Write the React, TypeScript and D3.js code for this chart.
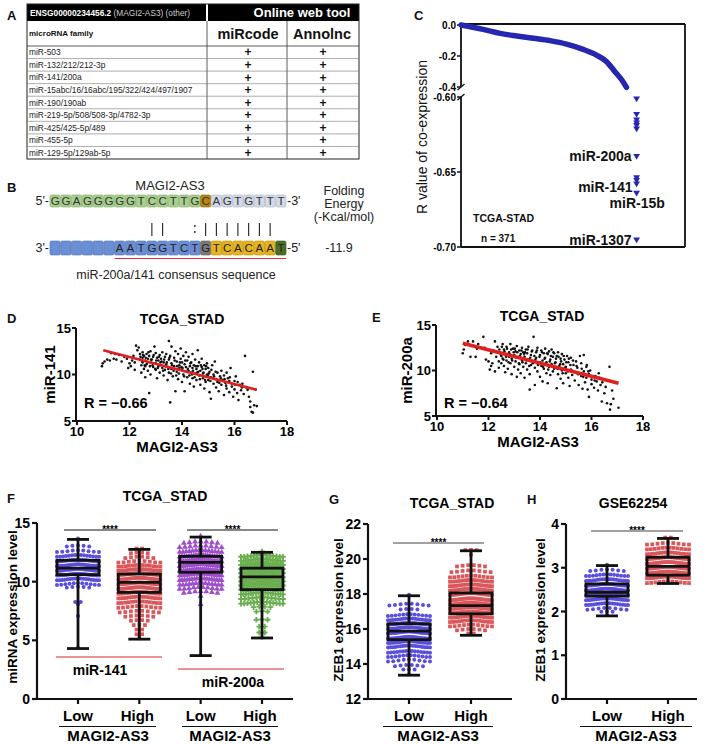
import React from 'react';
import * as d3 from 'd3';

const FONT = '"Liberation Sans", Arial, Helvetica, sans-serif';

// ---------------- Panel A data ----------------
const tableGeneId = 'ENSG00000234456.2';
const tableGeneNote = ' (MAGI2-AS3) (other)';
const tableToolHeader = 'Online web tool';
const tableFamilyHeader = 'microRNA family';
const tableTools = ['miRcode', 'Annolnc'];
const mirnaFamilies = [
  'miR-503',
  'miR-132/212/212-3p',
  'miR-141/200a',
  'miR-15abc/16/16abc/195/322/424/497/1907',
  'miR-190/190ab',
  'miR-219-5p/508/508-3p/4782-3p',
  'miR-425/425-5p/489',
  'miR-455-5p',
  'miR-129-5p/129ab-5p',
];
const miRcodeHit = [true, true, true, true, true, true, true, true, true];
const annolncHit = [true, true, true, true, true, true, true, true, true];

// ---------------- Panel B data ----------------
const bGeneName = 'MAGI2-AS3';
const bTopSeq = 'GGAGGGGGTCCTTGCAGTGTTT';
const bTopKinds = 'ggggggggggggggcllllllld';
const bBottomSeq = '      AATGGTCTGTCACAAT';
const bBottomKinds = 'bbbbbbbbbbbbbbxyyyyyye';
const bPairs = '         ||  :||||||| ';
const bFoldingEnergy = '-11.9';
const bConsensus = 'miR-200a/141 consensus sequence';

// ---------------- Panel C data ----------------
const cCurveRank = [0, 48, 85, 121, 157, 193, 229, 265, 294, 316, 334, 349, 359];
const cCurveR = [0, -0.028, -0.054, -0.071, -0.086, -0.101, -0.123, -0.157, -0.194, -0.237, -0.301, -0.355, -0.402];
const cOutlierRank = 381;
const cOutlierR = [-0.6009, -0.6113, -0.6149, -0.6169, -0.6187, -0.6209, -0.6393, -0.6535, -0.6553, -0.6576, -0.6638, -0.6949];
const cTopTicks = [0, -0.2, -0.4];
const cTopTickLabels = ['0.0', '-0.2', '-0.4'];
const cBottomTicks = [-0.6, -0.65, -0.7];
const cBottomTickLabels = ['-0.60', '-0.65', '-0.70'];
const cLabelNames = ['miR-200a', 'miR-141', 'miR-15b', 'miR-1307'];
const cLabelR = [-0.6393, -0.6553, -0.6638, -0.6949];

// ---------------- Panel D / E data ----------------
const scatterXTicks = [10, 12, 14, 16, 18];
const scatterYTicks = [5, 10, 15];
const dPoints: [number, number][] = [
  [10.95, 10.9], [10.98, 11.2], [11.05, 11.4], [11.15, 11.6], [11.25, 11.5], [11.3, 12.3], [11.4, 11.7], [11.45, 12.2], [11.5, 11.6], [11.6, 12.1],
  [11.7, 11.4], [11.8, 11.9], [11.9, 11.7], [11.95, 10.7], [12.0, 11.2], [12.05, 10.9], [12.1, 11.5], [12.15, 12.0], [12.2, 11.3], [12.2, 10.5], [12.25, 13.1], [12.3, 12.6],
  [12.35, 12.9], [12.4, 12.2], [12.4, 11.6], [12.45, 11.0], [12.45, 10.2], [12.5, 12.4], [12.5, 11.8], [12.5, 11.3], [12.55, 10.6], [12.55, 12.0], [12.6, 11.5], [12.6, 10.9], [12.6, 9.7],
  [12.65, 12.2], [12.65, 11.1], [12.7, 11.7], [12.7, 10.4], [12.75, 12.0], [12.75, 8.0], [12.8, 11.3], [12.8, 10.0], [12.8, 12.5], [12.85, 11.6], [12.9, 10.8], [12.9, 11.9],
  [12.95, 13.0], [13.0, 12.3], [13.0, 11.2], [13.0, 10.5], [13.05, 11.8], [13.05, 9.6], [13.1, 11.5], [13.1, 10.9], [13.15, 12.1], [13.15, 10.2], [13.2, 11.0], [13.2, 11.7],
  [13.25, 12.4], [13.25, 10.7], [13.3, 11.3], [13.3, 9.9], [13.35, 11.9], [13.35, 10.5], [13.4, 12.2], [13.4, 11.1], [13.45, 10.8], [13.45, 9.4], [13.5, 13.6], [13.5, 11.6],
  [13.5, 10.2], [13.55, 12.0], [13.55, 7.0], [13.6, 11.2], [13.6, 10.6], [13.6, 13.0], [13.65, 9.8], [13.7, 11.8], [13.7, 10.9], [13.75, 8.2], [13.75, 12.5],
  [13.8, 11.4], [13.8, 10.3], [13.85, 12.2], [13.85, 9.5], [13.9, 11.0], [13.9, 10.7], [13.95, 11.7], [13.95, 12.8], [14.0, 10.5], [14.0, 11.3], [14.0, 9.2], [14.05, 12.0],
  [14.05, 10.0], [14.1, 11.1], [14.1, 8.2], [14.15, 10.8], [14.15, 12.4], [14.2, 11.5], [14.2, 9.7], [14.25, 10.4], [14.25, 11.9], [14.3, 10.9], [14.3, 9.0], [14.35, 11.3],
  [14.35, 10.2], [14.4, 12.2], [14.4, 9.6], [14.4, 10.7], [14.45, 11.0], [14.45, 8.7], [14.5, 10.1], [14.5, 11.6], [14.55, 9.4], [14.55, 10.6], [14.6, 12.6],
  [14.6, 10.9], [14.65, 9.9], [14.65, 11.3], [14.7, 10.4], [14.7, 8.9], [14.75, 10.8], [14.75, 11.7], [14.8, 9.6], [14.8, 10.1], [14.85, 11.0], [14.85, 8.5], [14.9, 10.6],
  [14.9, 9.2], [14.95, 11.2], [14.95, 10.0], [15.0, 10.7], [15.0, 9.4], [15.05, 8.1], [15.05, 10.3], [15.1, 7.4], [15.1, 9.7], [15.15, 11.0], [15.2, 10.0], [15.2, 9.0],
  [15.25, 11.4], [15.3, 9.5], [15.3, 8.6], [15.35, 10.2], [15.35, 9.2], [15.4, 8.2],
  [15.45, 9.8], [15.5, 10.4], [15.5, 8.9], [15.55, 9.4], [15.6, 9.9], [15.6, 7.8], [15.65, 9.1], [15.7, 10.2], [15.7, 8.5], [15.75, 9.6], [15.8, 8.1], [15.8, 9.3],
  [15.85, 10.7], [15.9, 8.7], [15.9, 9.0], [15.95, 7.6], [16.0, 9.3], [16.0, 8.4], [16.05, 9.8], [16.1, 8.0],
  [16.15, 7.25], [16.2, 8.9], [16.25, 8.3], [16.3, 9.0], [16.35, 7.9], [16.4, 12.0], [16.45, 8.6], [16.5, 8.35], [16.55, 7.6], [16.6, 7.1], [16.6, 6.5], [16.65, 6.0],
  [16.7, 10.3], [16.75, 6.7], [16.8, 8.4], [16.85, 6.6], [16.7, 5.9],
  [12.42, 11.9], [12.48, 11.4], [12.52, 12.1], [12.58, 11.0], [12.62, 11.8], [12.68, 11.3], [12.72, 12.4], [12.78, 10.9],
  [12.82, 11.6], [12.88, 11.0], [12.92, 12.1], [12.98, 10.6], [13.02, 11.5], [13.08, 10.7], [13.12, 11.9], [13.18, 11.3],
  [13.22, 11.4], [13.28, 10.4], [13.32, 11.6], [13.38, 10.9], [13.42, 11.3], [13.48, 10.6], [13.52, 11.8], [13.58, 10.1],
  [13.62, 11.0], [13.68, 10.4], [13.72, 11.5], [13.78, 9.9], [13.82, 10.9], [13.88, 10.1], [13.92, 11.3], [13.98, 10.8],
  [14.02, 10.7], [14.08, 9.8], [14.12, 11.5], [14.18, 10.3], [14.22, 10.6], [14.28, 9.9], [14.32, 11.2], [14.38, 10.0],
  [14.42, 10.4], [14.48, 9.7], [14.52, 10.9], [14.58, 10.2], [14.62, 10.3], [14.68, 9.5], [14.72, 11.0], [14.78, 10.6],
  [14.82, 10.2], [14.88, 9.4], [14.92, 10.9], [14.98, 9.9], [15.02, 10.1], [15.08, 9.3], [15.12, 10.5], [15.18, 9.6],
  [15.22, 9.8], [15.28, 10.3], [15.42, 9.1], [15.48, 9.6], [15.62, 9.5], [15.68, 8.8], [15.82, 9.7], [16.02, 8.9], [16.12, 9.2], [16.28, 8.6],
];
const dFitX = [11.0, 16.85];
const dFitY = [12.6, 8.35];
const ePoints: [number, number][] = [
  [11.0, 11.9], [11.04, 12.3], [11.1, 12.8], [11.2, 13.2], [11.3, 11.5], [11.35, 12.7], [11.4, 13.2], [11.5, 11.5], [11.55, 12.4], [11.6, 12.9],
  [11.8, 13.7], [11.85, 12.5], [11.9, 11.2], [12.0, 11.0], [12.05, 10.1], [12.1, 10.5], [12.1, 11.9], [12.15, 10.8], [12.2, 12.2], [12.25, 13.2], [12.25, 9.9], [12.3, 11.5],
  [12.35, 12.6], [12.4, 11.0], [12.4, 10.3], [12.45, 12.0], [12.5, 11.6], [12.5, 10.8], [12.55, 12.9], [12.55, 11.3], [12.6, 10.5], [12.6, 12.3], [12.65, 11.8], [12.65, 9.8],
  [12.7, 11.1], [12.7, 12.6], [12.75, 10.2], [12.8, 11.5], [12.8, 12.0], [12.85, 10.8], [12.85, 12.9], [12.9, 11.3], [12.9, 9.6],
  [12.95, 12.4], [13.0, 11.7], [13.0, 10.4], [13.05, 12.1], [13.05, 11.0], [13.1, 9.3], [13.1, 12.7], [13.15, 11.4], [13.15, 10.1], [13.2, 12.2], [13.2, 10.7], [13.25, 11.8],
  [13.25, 9.7], [13.3, 12.5], [13.3, 11.1], [13.35, 10.4], [13.35, 12.0], [13.4, 11.5], [13.4, 9.2], [13.45, 12.3], [13.45, 10.8], [13.5, 11.9], [13.5, 10.1], [13.55, 12.6],
  [13.55, 11.2], [13.6, 9.6], [13.6, 7.9], [13.65, 11.7], [13.65, 10.6], [13.7, 12.2], [13.75, 13.7], [13.75, 11.0], [13.8, 8.4], [13.8, 10.3],
  [13.85, 12.0], [13.85, 11.4], [13.9, 9.9], [13.9, 12.5], [13.95, 10.8], [14.0, 11.7], [14.0, 9.3], [14.05, 12.2], [14.05, 10.5], [14.1, 11.1], [14.1, 8.8], [14.15, 11.9],
  [14.15, 10.2], [14.2, 12.4], [14.2, 11.4], [14.25, 9.7], [14.25, 10.9], [14.3, 11.8], [14.3, 8.6], [14.35, 10.4], [14.35, 12.1], [14.4, 11.2], [14.4, 9.5], [14.45, 10.7],
  [14.45, 12.3], [14.5, 11.5], [14.5, 9.9], [14.55, 10.2], [14.55, 11.9],
  [14.6, 10.9], [14.65, 8.05], [14.65, 11.6], [14.7, 9.6], [14.7, 12.0], [14.75, 10.5], [14.8, 11.3], [14.8, 9.1], [14.85, 10.0], [14.85, 11.8], [14.9, 10.7], [14.9, 8.6],
  [14.95, 11.2], [15.0, 9.7], [15.0, 10.4], [15.05, 11.6], [15.1, 9.2], [15.1, 10.9], [15.15, 8.3], [15.2, 10.1], [15.2, 11.4], [15.25, 9.5],
  [15.3, 10.6], [15.35, 8.9], [15.4, 11.0], [15.4, 9.8], [15.45, 10.3], [15.5, 8.4], [15.55, 11.6], [15.6, 9.4], [15.6, 10.8], [15.65, 8.0], [15.7, 9.9], [15.7, 11.7],
  [15.75, 8.7], [15.8, 10.4], [15.8, 9.2], [15.85, 7.9], [15.9, 7.1], [15.9, 9.6], [15.95, 10.0], [16.0, 8.5], [16.0, 9.0],
  [16.1, 8.1], [16.15, 9.4], [16.2, 8.8], [16.25, 7.8], [16.3, 9.2], [16.35, 8.4], [16.4, 6.6], [16.45, 9.0], [16.5, 7.5], [16.55, 8.2], [16.6, 6.4], [16.65, 8.9],
  [16.7, 10.4], [16.72, 5.7], [16.75, 6.3], [16.8, 7.8], [16.85, 6.9], [17.05, 5.9],
  [12.42, 12.3], [12.48, 11.7], [12.52, 12.6], [12.58, 11.2], [12.62, 12.1], [12.68, 11.5], [12.72, 12.4], [12.78, 10.9],
  [12.82, 11.8], [12.88, 12.3], [12.92, 11.1], [12.98, 12.0], [13.02, 12.4], [13.08, 11.4], [13.12, 12.0], [13.18, 10.8],
  [13.22, 11.6], [13.28, 12.2], [13.32, 10.9], [13.38, 11.8], [13.42, 12.0], [13.48, 11.1], [13.52, 12.3], [13.58, 10.5],
  [13.62, 11.4], [13.68, 12.1], [13.72, 10.8], [13.78, 11.6], [13.82, 11.2], [13.88, 12.2], [13.92, 10.6], [13.98, 11.5],
  [14.02, 10.9], [14.08, 12.0], [14.12, 10.4], [14.18, 11.3], [14.22, 10.7], [14.28, 11.9], [14.32, 10.1], [14.38, 11.0],
  [14.42, 11.6], [14.48, 10.5], [14.52, 12.0], [14.58, 10.8], [14.62, 11.3], [14.68, 10.2], [14.72, 11.5], [14.78, 10.7],
  [14.82, 11.0], [14.88, 9.7], [14.92, 11.6], [14.98, 10.3], [15.02, 10.9], [15.08, 9.9], [15.12, 11.3], [15.18, 10.6],
  [15.22, 10.0], [15.28, 11.1], [15.42, 10.5], [15.48, 9.6], [15.62, 10.2], [15.68, 9.3], [15.82, 10.6], [15.88, 9.9],
  [16.02, 9.4], [16.12, 8.9], [16.28, 9.7], [16.42, 8.7],
];
const eFitX = [11.0, 17.05];
const eFitY = [13.0, 8.6];

// ---------------- Panel F / G / H data ----------------
// Box stats: [min, q1, median, q3, max]
const fGroups = ['Low141', 'High141', 'Low200a', 'High200a'];
const fGroupLabels = ['Low', 'High', 'Low', 'High'];
const fStats: number[][] = [
  [4.3, 10.6, 11.15, 11.82, 13.6],
  [5.1, 9.09, 9.94, 10.65, 12.75],
  [3.7, 10.8, 11.65, 12.16, 13.8],
  [5.2, 9.32, 10.4, 11.15, 12.5],
];
// Dot rows: [value, count of samples at that level]
const fRows: [number, number][][] = [
  [[13.6, 1], [13.0, 5], [12.6, 9], [12.2, 15], [11.8, 21], [11.4, 24], [11.0, 24], [10.6, 22], [10.2, 17], [9.8, 11], [9.5, 5], [8.2, 2], [8.0, 1], [7.0, 1], [4.3, 1]],
  [[12.75, 2], [12.4, 4], [12.05, 6], [11.7, 9], [11.35, 13], [11.0, 17], [10.65, 20], [10.25, 22], [9.85, 22], [9.45, 22], [9.05, 20], [8.65, 17], [8.25, 13], [7.85, 10], [7.45, 8], [7.05, 6], [6.65, 4], [6.25, 3], [5.85, 2], [5.45, 2], [5.1, 1]],
  [[13.8, 1], [13.35, 7], [13.0, 9], [12.6, 14], [12.2, 19], [11.8, 23], [11.4, 24], [11.0, 23], [10.6, 21], [10.2, 18], [9.8, 14], [9.45, 10], [9.1, 7], [8.7, 1], [8.0, 1], [3.7, 1]],
  [[12.5, 1], [12.2, 14], [11.85, 18], [11.5, 21], [11.15, 23], [10.8, 24], [10.45, 24], [10.1, 23], [9.75, 22], [9.4, 21], [9.0, 18], [8.6, 12], [8.2, 14], [7.8, 4], [7.4, 3], [6.7, 3], [6.1, 2], [5.6, 2], [5.2, 1]],
];
const fYTicks = [0, 5, 10, 15];
const fMirNames = ['miR-141', 'miR-200a'];

const ghGroups = ['Low', 'High'];
const gStats: number[][] = [
  [13.36, 15.39, 15.88, 16.3, 17.9],
  [15.64, 16.87, 17.34, 18.06, 20.47],
];
const gRows: [number, number][][] = [
  [[17.9, 1], [17.4, 8], [17.1, 4], [16.8, 12], [16.55, 18], [16.3, 22], [16.05, 24], [15.8, 24], [15.5, 24], [15.25, 22], [15.0, 18], [14.7, 15], [14.45, 12], [14.2, 9], [13.9, 6], [13.65, 3], [13.36, 1]],
  [[20.47, 3], [20.2, 1], [19.6, 6], [19.3, 8], [19.0, 11], [18.75, 14], [18.5, 17], [18.25, 20], [18.0, 22], [17.7, 24], [17.45, 24], [17.2, 24], [16.95, 22], [16.7, 17], [16.45, 14], [16.2, 10], [15.95, 6], [15.7, 2]],
];
const gYTicks = [12, 14, 16, 18, 20, 22];
const hStats: number[][] = [
  [1.9, 2.35, 2.44, 2.63, 3.05],
  [2.64, 2.83, 3.03, 3.24, 3.67],
];
const hRows: [number, number][][] = [
  [[3.05, 1], [2.94, 7], [2.83, 13], [2.72, 19], [2.61, 23], [2.5, 24], [2.39, 24], [2.28, 22], [2.17, 17], [2.06, 8], [1.98, 3], [1.9, 1]],
  [[3.67, 2], [3.55, 9], [3.44, 12], [3.33, 16], [3.22, 19], [3.11, 22], [3.0, 23], [2.89, 23], [2.78, 20], [2.67, 11]],
];
const hYTicks = [0, 1, 2, 3, 4];

// ---------------- helpers ----------------
const BLUE = '#5a4fdc';
const RED = '#d9585c';
const PURPLE = '#9d4fcc';
const GREEN = '#6aae4f';

function rowPoints(rows: [number, number][], cx: number, y: (v: number) => number, maxW: number) {
  const pts: { x: number; y: number }[] = [];
  rows.forEach(([v, n]) => {
    const sp = n > 1 ? Math.min(5.6, maxW / (n - 1)) : 0;
    for (let i = 0; i < n; i++) {
      const off = (i - (n - 1) / 2) * sp;
      pts.push({ x: cx + off, y: y(v) - 0.9 * Math.cos((off / (maxW / 2)) * Math.PI) });
    }
  });
  return pts;
}

const symbolPaths: Record<string, string> = {
  circle: d3.symbol().type(d3.symbolCircle).size(12.5)() as string,
  square: d3.symbol().type(d3.symbolSquare).size(14)() as string,
  triangle: d3.symbol().type(d3.symbolTriangle).size(15)() as string,
  cross: d3.symbol().type(d3.symbolCross).size(17)() as string,
};

function PanelLetter({ x, y, t }: { x: number; y: number; t: string }) {
  return (
    <text x={x} y={y} fontSize={13} fontWeight="bold" fill="#111">
      {t}
    </text>
  );
}

// ---------------- Panel A ----------------
function PanelA() {
  const left = 27, right = 359, top = 4, headerBottom = 21, subBottom = 46, bottom = 159;
  const colSplit = 207, colTools = 287;
  const rowBand = d3.scaleBand<string>().domain(mirnaFamilies).range([subBottom, bottom]);
  const toolX = [248, 322];
  return (
    <g>
      <PanelLetter x={7} y={20} t="A" />
      <rect x={left} y={top} width={colSplit - left - 1} height={headerBottom - top} fill="#000" />
      <rect x={colSplit + 1} y={top} width={right - colSplit - 1} height={headerBottom - top} fill="#000" />
      <text x={30} y={15.5} fontSize={8.3} fontWeight="bold" fill="#fff">
        {tableGeneId}
        <tspan fontWeight="normal" fill="#cfcfcf">{tableGeneNote}</tspan>
      </text>
      <text x={302} y={17} fontSize={13} fontWeight="bold" fill="#fff" textAnchor="middle">
        {tableToolHeader}
      </text>
      <rect x={left} y={top} width={right - left} height={bottom - top} fill="none" stroke="#222" strokeWidth={1} />
      <line x1={colSplit} x2={colSplit} y1={headerBottom} y2={bottom} stroke="#333" strokeWidth={0.8} />
      <line x1={colTools} x2={colTools} y1={headerBottom} y2={bottom} stroke="#333" strokeWidth={0.8} />
      <line x1={left} x2={right} y1={subBottom} y2={subBottom} stroke="#333" strokeWidth={0.8} />
      <text x={29} y={36} fontSize={8} fontWeight="bold" fill="#111">
        {tableFamilyHeader}
      </text>
      {tableTools.map((t, i) => (
        <text key={t} x={toolX[i]} y={39} fontSize={14.5} fontWeight="bold" fill="#111" textAnchor="middle">
          {t}
        </text>
      ))}
      {mirnaFamilies.map((f, i) => {
        const y0 = rowBand(f) as number;
        const bw = rowBand.bandwidth();
        return (
          <g key={f}>
            {i > 0 && <line x1={left} x2={right} y1={y0} y2={y0} stroke="#777" strokeWidth={0.6} />}
            <text x={29} y={y0 + bw / 2 + 3} fontSize={8.4} fill="#222">
              {f}
            </text>
            {miRcodeHit[i] && (
              <text x={toolX[0]} y={y0 + bw / 2 + 4.2} fontSize={12} fontWeight="bold" textAnchor="middle" fill="#111">
                +
              </text>
            )}
            {annolncHit[i] && (
              <text x={toolX[1] + 1} y={y0 + bw / 2 + 4.2} fontSize={12} fontWeight="bold" textAnchor="middle" fill="#111">
                +
              </text>
            )}
          </g>
        );
      })}
    </g>
  );
}

// ---------------- Panel B ----------------
const kindFill: Record<string, string> = {
  g: '#a9d08e', c: '#b8860b', l: '#d3d9e6', d: '#2f4f9e',
  b: '#6b8fd4', x: '#7a7a7a', y: '#e6b41e', e: '#4a6e2a',
};
const kindStroke: Record<string, string> = {
  g: '#7fa867', c: '#8d6708', l: '#a9b1c4', d: '#22397a',
  b: '#4d6fb3', x: '#5b5b5b', y: '#b88d0f', e: '#34501c',
};

function PanelB() {
  const xb = d3.scaleBand<number>().domain(d3.range(bTopSeq.length)).range([50, 286]).paddingInner(0.05);
  const topY = 195, topH = 12, botY = 241, botH = 14;
  const fs = 11.5;
  return (
    <g>
      <PanelLetter x={7} y={192} t="B" />
      <text x={170} y={189.5} fontSize={13} textAnchor="middle" fill="#222">{bGeneName}</text>
      <text x={49} y={205} fontSize={12.5} textAnchor="end" fill="#222">5'-</text>
      <text x={287} y={205} fontSize={12.5} fill="#222">-3'</text>
      <text x={49} y={252} fontSize={12.5} textAnchor="end" fill="#222">3'-</text>
      <text x={287} y={252} fontSize={12.5} fill="#222">-5'</text>
      {bTopSeq.split('').map((ch, i) => (
        <g key={'t' + i}>
          <rect x={xb(i)} y={topY} width={xb.bandwidth()} height={topH} rx={1.5}
            fill={kindFill[bTopKinds[i]]} stroke={kindStroke[bTopKinds[i]]} strokeWidth={0.6} />
          <text x={(xb(i) as number) + xb.bandwidth() / 2} y={topY + topH / 2 + 4} fontSize={fs} textAnchor="middle"
            fill={bTopKinds[i] === 'd' ? '#e8ecf6' : '#333'}>{ch}</text>
        </g>
      ))}
      {bBottomSeq.split('').map((ch, i) => (
        <g key={'b' + i}>
          <rect x={xb(i)} y={botY} width={xb.bandwidth()} height={botH} rx={1.5}
            fill={kindFill[bBottomKinds[i]]} stroke={kindStroke[bBottomKinds[i]]} strokeWidth={0.6} />
          <text x={(xb(i) as number) + xb.bandwidth() / 2} y={botY + botH / 2 + 4} fontSize={fs} textAnchor="middle" fill="#222">{ch.trim()}</text>
        </g>
      ))}
      {bPairs.split('').map((ch, i) => {
        const cx = (xb(i) as number) + xb.bandwidth() / 2;
        if (ch === '|') return <line key={'p' + i} x1={cx} x2={cx} y1={223} y2={236} stroke="#222" strokeWidth={1.1} />;
        if (ch === ':') return (
          <g key={'p' + i}>
            <circle cx={cx} cy={226} r={0.9} fill="#222" />
            <circle cx={cx} cy={232} r={0.9} fill="#222" />
          </g>
        );
        return null;
      })}
      <line x1={(xb(6) as number)} x2={(xb(21) as number) + xb.bandwidth()} y1={258.5} y2={258.5} stroke="#e03030" strokeWidth={1} />
      <text x={176} y={279} fontSize={12.5} textAnchor="middle" fill="#222">{bConsensus}</text>
      <text x={344} y={195} fontSize={12.5} textAnchor="middle" fill="#222">Folding</text>
      <text x={344} y={208} fontSize={12.5} textAnchor="middle" fill="#222">Energy</text>
      <text x={344} y={221} fontSize={12.5} textAnchor="middle" fill="#222">(-Kcal/mol)</text>
      <text x={339} y={252} fontSize={12.5} textAnchor="middle" fill="#222">{bFoldingEnergy}</text>
    </g>
  );
}

// ---------------- Panel C ----------------
function PanelC() {
  const x = d3.scaleLinear().domain([0, 486]).range([461, 685]);
  const yTop = d3.scaleLinear().domain([0, -0.4]).range([25, 87]);
  const yBot = d3.scaleLinear().domain([-0.6, -0.7]).range([97, 247]);
  const curve = d3.line<number>().x((d, i) => x(cCurveRank[i])).y((d) => yTop(d)).curve(d3.curveMonotoneX)(cCurveR) as string;
  const col = '#2626b0';
  const tri = d3.symbol().type(d3.symbolTriangle).size(20)() as string;
  const labelSpec = [
    { dx: -5, dy: 5, anchor: 'end' },
    { dx: -4, dy: 12, anchor: 'end' },
    { dx: -27, dy: 15, anchor: 'start' },
    { dx: -5, dy: 5.5, anchor: 'end' },
  ];
  return (
    <g>
      <PanelLetter x={414} y={20} t="C" />
      <line x1={461} x2={685} y1={24} y2={24} stroke="#111" strokeWidth={1.8} />
      <line x1={685} x2={685} y1={24} y2={247} stroke="#111" strokeWidth={1.8} />
      <line x1={461} x2={685} y1={247} y2={247} stroke="#111" strokeWidth={1.8} />
      <line x1={461} x2={461} y1={24} y2={87} stroke="#111" strokeWidth={1.8} />
      <line x1={461} x2={461} y1={97} y2={247} stroke="#111" strokeWidth={1.8} />
      <line x1={457.5} x2={464.5} y1={90} y2={84} stroke="#111" strokeWidth={1.3} />
      <line x1={457.5} x2={464.5} y1={100} y2={94} stroke="#111" strokeWidth={1.3} />
      {cTopTicks.map((t, i) => (
        <g key={'ct' + i}>
          <line x1={457} x2={461} y1={yTop(t)} y2={yTop(t)} stroke="#111" strokeWidth={1.5} />
          <text x={456} y={yTop(t) + 3.5} fontSize={10} fontWeight="bold" textAnchor="end">{cTopTickLabels[i]}</text>
        </g>
      ))}
      {cBottomTicks.map((t, i) => (
        <g key={'cb' + i}>
          <line x1={457} x2={461} y1={yBot(t)} y2={yBot(t)} stroke="#111" strokeWidth={1.5} />
          <text x={456} y={yBot(t) + 3.5} fontSize={10} fontWeight="bold" textAnchor="end">{cBottomTickLabels[i]}</text>
        </g>
      ))}
      <path d={curve} fill="none" stroke={col} strokeWidth={5.5} strokeLinecap="round" />
      {cOutlierR.map((r, i) => (
        <path key={'o' + i} d={tri} transform={`translate(${x(cOutlierRank)},${yBot(r)}) rotate(180)`} fill={col} />
      ))}
      {cLabelNames.map((n, i) => (
        <text key={n} x={x(cOutlierRank) + labelSpec[i].dx} y={yBot(cLabelR[i]) + labelSpec[i].dy}
          fontSize={14} fontWeight="bold" textAnchor={labelSpec[i].anchor as any} fill="#111">{n}</text>
      ))}
      <text x={473} y={222} fontSize={10.5} fontWeight="bold" fill="#111">TCGA-STAD</text>
      <text x={481} y={242} fontSize={10} fontWeight="bold" fill="#111">n = 371</text>
      <text transform="translate(427,137) rotate(-90)" fontSize={14} textAnchor="middle" fill="#111">R value of co-expression</text>
    </g>
  );
}

// ---------------- Scatter (D/E) ----------------
function Scatter(props: {
  letter: string; lx: number; ly: number;
  x0: number; x1: number; yTopPx: number; yBotPx: number;
  points: [number, number][]; fitX: number[]; fitY: number[]; fitW: number;
  yTitle: string; rText: string; titleX: number; titleY: number; xTitleX: number; xTitleY: number; yTitleX: number;
}) {
  const x = d3.scaleLinear().domain([10, 18]).range([props.x0, props.x1]);
  const y = d3.scaleLinear().domain([5, 15]).range([props.yBotPx, props.yTopPx]);
  const ax = props.x0 - 1;
  return (
    <g>
      <PanelLetter x={props.lx} y={props.ly} t={props.letter} />
      <text x={props.titleX} y={props.titleY} fontSize={14} fontWeight="bold" textAnchor="middle">TCGA_STAD</text>
      {props.points.map((p, i) => (
        <circle key={i} cx={x(p[0])} cy={y(p[1])} r={1.3} fill="#111" />
      ))}
      <line x1={x(props.fitX[0])} x2={x(props.fitX[1])} y1={y(props.fitY[0])} y2={y(props.fitY[1])} stroke="#e01f1f" strokeWidth={props.fitW} />
      <line x1={ax} x2={ax} y1={y(15)} y2={y(5)} stroke="#111" strokeWidth={2} />
      <line x1={ax} x2={x(18)} y1={y(5)} y2={y(5)} stroke="#111" strokeWidth={2} />
      {scatterYTicks.map((t) => (
        <g key={'y' + t}>
          <line x1={ax - 4} x2={ax} y1={y(t)} y2={y(t)} stroke="#111" strokeWidth={2} />
          <text x={ax - 5} y={y(t) + 4.5} fontSize={13} fontWeight="bold" textAnchor="end">{t}</text>
        </g>
      ))}
      {scatterXTicks.map((t) => (
        <g key={'x' + t}>
          <line x1={x(t)} x2={x(t)} y1={y(5)} y2={y(5) + 4} stroke="#111" strokeWidth={2} />
          <text x={x(t)} y={y(5) + 15} fontSize={13} fontWeight="bold" textAnchor="middle">{t}</text>
        </g>
      ))}
      <text x={props.xTitleX} y={props.xTitleY} fontSize={15} fontWeight="bold" textAnchor="middle">MAGI2-AS3</text>
      <text transform={`translate(${props.yTitleX},${(y(5) + y(15)) / 2}) rotate(-90)`} fontSize={15} fontWeight="bold" textAnchor="middle">{props.yTitle}</text>
      <text x={props.x0 + 7} y={408} fontSize={14.5} fontWeight="bold">{props.rText}</text>
    </g>
  );
}

// ---------------- Box + dots ----------------
function BoxGroup({ cx, stats, rows, y, color, shape }: {
  cx: number; stats: number[]; rows: [number, number][]; y: (v: number) => number; color: string; shape: string;
}) {
  const pts = rowPoints(rows, cx, y, 42);
  const hw = 21, cw = 11;
  const sw = 2.8;
  return (
    <g>
      {pts.map((p, i) => (
        <path key={i} d={symbolPaths[shape]} transform={`translate(${p.x},${p.y})`} fill={color} />
      ))}
      <line x1={cx} x2={cx} y1={y(stats[0])} y2={y(stats[1])} stroke="#111" strokeWidth={sw} />
      <line x1={cx} x2={cx} y1={y(stats[3])} y2={y(stats[4])} stroke="#111" strokeWidth={sw} />
      <line x1={cx - cw} x2={cx + cw} y1={y(stats[0])} y2={y(stats[0])} stroke="#111" strokeWidth={sw} />
      <line x1={cx - cw} x2={cx + cw} y1={y(stats[4])} y2={y(stats[4])} stroke="#111" strokeWidth={sw} />
      <rect x={cx - hw} y={y(stats[3])} width={hw * 2} height={y(stats[1]) - y(stats[3])} fill="none" stroke="#111" strokeWidth={sw} />
      <line x1={cx - hw} x2={cx + hw} y1={y(stats[2])} y2={y(stats[2])} stroke="#111" strokeWidth={sw} />
    </g>
  );
}

function Axes({ x0, x1, y, ticks, xCenters }: { x0: number; x1: number; y: d3.ScaleLinear<number, number>; ticks: number[]; xCenters: number[] }) {
  const [d0, d1] = y.domain();
  return (
    <g>
      <line x1={x0} x2={x0} y1={y(d1)} y2={y(d0)} stroke="#111" strokeWidth={2.2} />
      <line x1={x0} x2={x1} y1={y(d0)} y2={y(d0)} stroke="#111" strokeWidth={2.2} />
      {ticks.map((t) => (
        <g key={t}>
          <line x1={x0 - 5} x2={x0} y1={y(t)} y2={y(t)} stroke="#111" strokeWidth={2.2} />
          <text x={x0 - 7} y={y(t) + 5} fontSize={14} fontWeight="bold" textAnchor="end">{t}</text>
        </g>
      ))}
      {xCenters.map((c, i) => (
        <line key={'xc' + i} x1={c} x2={c} y1={y(d0)} y2={y(d0) + 5} stroke="#111" strokeWidth={2.2} />
      ))}
    </g>
  );
}

function GroupLabels({ centers, labels, lineX0, lineX1, midX }: { centers: number[]; labels: string[]; lineX0: number; lineX1: number; midX: number }) {
  return (
    <g>
      {centers.map((c, i) => (
        <text key={i} x={c} y={721} fontSize={15} fontWeight="bold" textAnchor="middle">{labels[i]}</text>
      ))}
      <line x1={lineX0} x2={lineX1} y1={726.5} y2={726.5} stroke="#111" strokeWidth={1} />
      <text x={midX} y={741} fontSize={15} fontWeight="bold" textAnchor="middle">MAGI2-AS3</text>
    </g>
  );
}

function Sig({ x0, x1, y, color }: { x0: number; x1: number; y: number; color: string }) {
  return (
    <g>
      <line x1={x0} x2={x1} y1={y} y2={y} stroke={color} strokeWidth={1} />
      <text x={(x0 + x1) / 2} y={y + 2.5} fontSize={10} fontWeight="bold" textAnchor="middle">****</text>
    </g>
  );
}

function PanelF() {
  const y = d3.scaleLinear().domain([0, 15]).range([699, 523]);
  const x = d3.scalePoint<string>().domain(fGroups).range([78, 262]);
  const colors = [BLUE, RED, PURPLE, GREEN];
  const shapes = ['circle', 'square', 'triangle', 'cross'];
  const centers = fGroups.map((g) => x(g) as number);
  return (
    <g>
      <PanelLetter x={7} y={503} t="F" />
      <text x={165} y={501} fontSize={14} fontWeight="bold" textAnchor="middle">TCGA_STAD</text>
      {fGroups.map((g, i) => (
        <BoxGroup key={g} cx={centers[i]} stats={fStats[i]} rows={fRows[i]} y={y} color={colors[i]} shape={shapes[i]} />
      ))}
      <Axes x0={37} x1={293} y={y} ticks={fYTicks} xCenters={centers} />
      <Sig x0={64} x1={156} y={530} color="#111" />
      <Sig x0={187} x1={278} y={530} color="#111" />
      <line x1={56} x2={162} y1={657} y2={657} stroke="#d62728" strokeWidth={1} />
      <text x={100} y={675} fontSize={14} fontWeight="bold" textAnchor="middle">{fMirNames[0]}</text>
      <line x1={178} x2={284} y1={669} y2={669} stroke="#d62728" strokeWidth={1} />
      <text x={233} y={687} fontSize={14} fontWeight="bold" textAnchor="middle">{fMirNames[1]}</text>
      <GroupLabels centers={[centers[0], centers[1] - 2]} labels={fGroupLabels.slice(0, 2)} lineX0={59} lineX1={156} midX={108} />
      <GroupLabels centers={[centers[2], centers[3] - 2]} labels={fGroupLabels.slice(2)} lineX0={182} lineX1={278} midX={230} />
      <text transform="translate(17,607) rotate(-90)" fontSize={13.5} fontWeight="bold" textAnchor="middle">miRNA expression level</text>
    </g>
  );
}

function PanelGH(props: {
  letter: string; lx: number; title: string; titleX: number; ax0: number; ax1: number;
  y: d3.ScaleLinear<number, number>; ticks: number[]; range: [number, number];
  stats: number[][]; rows: [number, number][][]; sig: [number, number, number];
  ul: [number, number]; midX: number; yTitleX: number;
}) {
  const x = d3.scalePoint<string>().domain(ghGroups).range(props.range);
  const centers = ghGroups.map((g) => x(g) as number);
  const colors = [BLUE, RED];
  const shapes = ['circle', 'square'];
  return (
    <g>
      <PanelLetter x={props.lx} y={504} t={props.letter} />
      <text x={props.titleX} y={508} fontSize={14} fontWeight="bold" textAnchor="middle">{props.title}</text>
      {ghGroups.map((g, i) => (
        <BoxGroup key={g} cx={centers[i]} stats={props.stats[i]} rows={props.rows[i]} y={props.y} color={colors[i]} shape={shapes[i]} />
      ))}
      <Axes x0={props.ax0} x1={props.ax1} y={props.y} ticks={props.ticks} xCenters={centers} />
      <Sig x0={props.sig[0]} x1={props.sig[1]} y={props.sig[2]} color="#444" />
      <GroupLabels centers={centers} labels={ghGroups} lineX0={props.ul[0]} lineX1={props.ul[1]} midX={props.midX} />
      <text transform={`translate(${props.yTitleX},610) rotate(-90)`} fontSize={13.5} fontWeight="bold" textAnchor="middle">ZEB1 expression level</text>
    </g>
  );
}

export default function App() {
  const yG = d3.scaleLinear().domain([12, 22]).range([699, 524]);
  const yH = d3.scaleLinear().domain([0, 4]).range([699, 524]);
  return (
    <svg width={706} height={744} viewBox="0 0 706 744" style={{ position: 'absolute', left: 0, top: 0, background: '#fff' }}
      fontFamily={FONT}>
      <rect width={706} height={744} fill="#fff" />
      <PanelA />
      <PanelB />
      <PanelC />
      <Scatter letter="D" lx={7} ly={323} x0={77} x1={287} yTopPx={328} yBotPx={421}
        points={dPoints} fitX={dFitX} fitY={dFitY} fitW={2.6} yTitle="miR-141" rText="R = −0.66"
        titleX={182} titleY={324} xTitleX={177} xTitleY={452} yTitleX={55} />
      <Scatter letter="E" lx={372} ly={322} x0={437} x1={643} yTopPx={325} yBotPx={416}
        points={ePoints} fitX={eFitX} fitY={eFitY} fitW={3.6} yTitle="miR-200a" rText="R = −0.64"
        titleX={542} titleY={321} xTitleX={538} xTitleY={447} yTitleX={412} />
      <PanelF />
      <PanelGH letter="G" lx={329} title="TCGA_STAD" titleX={452} ax0={368} ax1={512} y={yG} ticks={gYTicks}
        range={[409, 471]} stats={gStats} rows={gRows} sig={[393, 484, 543]} ul={[383, 493]} midX={438} yTitleX={343} />
      <PanelGH letter="H" lx={527} title="GSE62254" titleX={633} ax0={566} ax1={697} y={yH} ticks={hYTicks}
        range={[607, 668]} stats={hStats} rows={hRows} sig={[591, 683, 531]} ul={[580, 692]} midX={636} yTitleX={545} />
    </svg>
  );
}
